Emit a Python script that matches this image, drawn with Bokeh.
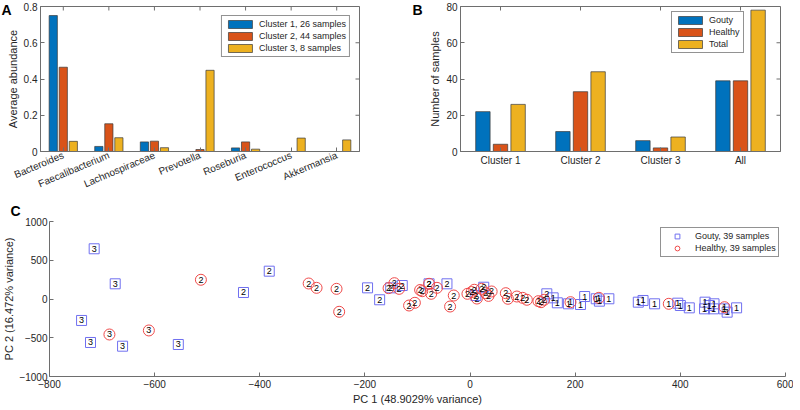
import numpy as np
from bokeh.plotting import figure
from bokeh.models import Range1d, FixedTicker, Legend, LegendItem
from bokeh.layouts import column, row
from bokeh.embed import file_html
from bokeh.resources import INLINE
from bokeh.core.properties import value

# ---------------- data ----------------
taxa = ["Bacteroides", "Faecalibacterium", "Lachnospiraceae", "Prevotella",
        "Roseburia", "Enterococcus", "Akkermansia"]
cluster1_abund = [0.750, 0.028, 0.053, 0.0, 0.020, 0.0, 0.0]
cluster2_abund = [0.465, 0.153, 0.057, 0.011, 0.053, 0.0, 0.0]
cluster3_abund = [0.056, 0.076, 0.021, 0.448, 0.013, 0.074, 0.064]
series_a_labels = ["Cluster 1, 26 samples", "Cluster 2, 44 samples", "Cluster 3, 8 samples"]
a_ticks = [0, 0.2, 0.4, 0.6, 0.8]

groups_b = ["Cluster 1", "Cluster 2", "Cluster 3", "All"]
gouty_counts = [22, 11, 6, 39]
healthy_counts = [4, 33, 2, 39]
total_counts = [26, 44, 8, 78]
series_b_labels = ["Gouty", "Healthy", "Total"]
b_ticks = [0, 20, 40, 60, 80]

gouty_pc1 = [-715, -675, -739, -722, -661, -555,
             -431, -382, -195, -172, -151, -129, -78, -44, 11, 26, 146,
             158, 166, 187, 210, 218, 240, 246, 264, 320, 329, 351, 395, 400,
             417, 447, 446, 455, 464, 463, 483, 489, 507]
gouty_pc2 = [648, 196, -277, -561, -609, -587,
             84, 359, 144, -10, 144, 174, 196, 196, 45, 152, 67,
             15, -49, -62, -71, 32, 3, -28, 3, -41, -19, -62, -54, -84,
             -114, -41, -127, -84, -62, -127, -127, -170, -114]
gouty_cluster = [3] * 6 + [2] * 11 + [1] * 22

healthy_pc1 = [-686, -611,
               191, 245, 378, 484,
               -512, -307, -292, -254, -249, -155, -144, -135, -116, -105, -95,
               -91, -78, -74, -63, -31, -38, -5, 3, 8, 13, 22, 30, 35, 41, 68,
               72, 89, 100, 108, 130, 135, 141]
healthy_pc2 = [-458, -406,
               -41, 15, -62, -106,
               248, 200, 144, 131, -165, 140, 204, 131, -84, -49, 116,
               101, 196, 67, 144, 45, -97, 67, 90, 119, 6, 131, 75, 40, 97, 75,
               3, 32, 15, -10, -28, -41, -10]
healthy_cluster = [3] * 2 + [1] * 4 + [2] * 33
c_xticks = [-800, -600, -400, -200, 0, 200, 400, 600]
c_yticks = [-1000, -500, 0, 500, 1000]

# ---------------- style ----------------
FONT = "Liberation Sans"
AX = "#6e6e6e"
TXT = "#262626"
EDGE = "#3a3a3a"
COLORS = ["#0072BD", "#D95319", "#EDB120"]


def style_axis(ax):
    ax.axis_line_color = AX
    ax.major_tick_line_color = AX
    ax.major_tick_in = 4
    ax.major_tick_out = 0
    ax.minor_tick_line_color = None
    ax.major_label_text_font = FONT
    ax.major_label_text_font_size = "10px"
    ax.major_label_text_color = TXT
    ax.axis_label_text_font = FONT
    ax.axis_label_text_font_size = "11px"
    ax.axis_label_text_font_style = "normal"
    ax.axis_label_text_color = TXT
    ax.major_label_standoff = 3
    ax.axis_label_standoff = 2


def box_ticks(p, xticks, yticks, xmax, ymax):
    # inward ticks on the top and right edges of the box (half of each dash is clipped)
    p.scatter(x=xticks, y=[ymax] * len(xticks), marker="dash", angle=np.pi / 2,
              size=8, line_color=AX, line_width=1)
    p.scatter(x=[xmax] * len(yticks), y=yticks, marker="dash",
              size=8, line_color=AX, line_width=1)


def style_legend(lg):
    lg.label_text_font = FONT
    lg.label_text_font_size = "9px"
    lg.label_text_color = TXT
    lg.border_line_color = "#262626"
    lg.border_line_width = 0.8
    lg.background_fill_color = "white"
    lg.background_fill_alpha = 1
    lg.padding = 3
    lg.spacing = 2
    lg.margin = 0
    lg.label_standoff = 4
    lg.label_height = 10


def letter(p, txt, dx, standoff):
    t = p.title
    t.text = txt
    t.text_font = FONT
    t.text_font_size = "14px"
    t.text_font_style = "bold"
    t.text_color = "black"
    t.align = "left"
    t.offset = dx
    t.standoff = standoff


# ---------------- panel A ----------------
xa = np.arange(1, len(taxa) + 1)
pA = figure(frame_width=319, frame_height=145, x_range=Range1d(0.5, len(taxa) + 0.5),
            y_range=Range1d(0, 0.8), output_backend="svg", toolbar_location=None,
            min_border_left=40, min_border_right=33, min_border_top=6, min_border_bottom=46)
pA.grid.visible = False
pA.outline_line_color = AX
itemsA = []
for vals, off, col, lab in zip([cluster1_abund, cluster2_abund, cluster3_abund],
                               [-0.22, 0.0, 0.22], COLORS, series_a_labels):
    r = pA.vbar(x=xa + off, top=vals, width=0.18, fill_color=col,
                line_color=EDGE, line_width=0.7)
    itemsA.append(LegendItem(label=lab, renderers=[r]))
box_ticks(pA, list(xa), a_ticks, pA.x_range.end, pA.y_range.end)
pA.xaxis.ticker = FixedTicker(ticks=list(xa))
pA.xaxis.major_label_overrides = {int(i): t for i, t in zip(xa, taxa)}
pA.xaxis.major_label_orientation = 0.4
pA.yaxis.ticker = FixedTicker(ticks=a_ticks)
pA.yaxis.axis_label = "Average abundance"
style_axis(pA.xaxis[0])
style_axis(pA.yaxis[0])
lgA = Legend(items=itemsA, location="top_right", glyph_width=30, glyph_height=10)
style_legend(lgA)
lgA.margin = 9
pA.add_layout(lgA)
letter(pA, "A", -39, -22)

# ---------------- panel B ----------------
xb = np.arange(1, len(groups_b) + 1)
pB = figure(frame_width=320, frame_height=145, x_range=Range1d(0.5, len(groups_b) + 0.5),
            y_range=Range1d(0, 80), output_backend="svg", toolbar_location=None,
            min_border_left=68, min_border_right=4, min_border_top=6, min_border_bottom=46)
pB.grid.visible = False
pB.outline_line_color = AX
itemsB = []
for vals, off, col, lab in zip([gouty_counts, healthy_counts, total_counts],
                               [-0.22, 0.0, 0.22], COLORS, series_b_labels):
    r = pB.vbar(x=xb + off, top=vals, width=0.18, fill_color=col,
                line_color=EDGE, line_width=0.7)
    itemsB.append(LegendItem(label=lab, renderers=[r]))
box_ticks(pB, list(xb), b_ticks, pB.x_range.end, pB.y_range.end)
pB.xaxis.ticker = FixedTicker(ticks=list(xb))
pB.xaxis.major_label_overrides = {int(i): t for i, t in zip(xb, groups_b)}
pB.yaxis.ticker = FixedTicker(ticks=b_ticks)
pB.yaxis.axis_label = "Number of samples"
style_axis(pB.xaxis[0])
style_axis(pB.yaxis[0])
lgB = Legend(items=itemsB, location=(211, 98), glyph_width=30, glyph_height=10)
style_legend(lgB)
pB.add_layout(lgB)
letter(pB, "B", -48, -22)

# ---------------- panel C ----------------
pC = figure(frame_width=736, frame_height=155, x_range=Range1d(-800, 600),
            y_range=Range1d(-1000, 1000), output_backend="svg", toolbar_location=None,
            min_border_left=40, min_border_right=8, min_border_top=24, min_border_bottom=30)
pC.grid.visible = False
pC.outline_line_color = None
gs = pC.scatter(gouty_pc1, gouty_pc2, marker="square", size=10, fill_color=None,
                line_color="#7070f0", line_width=1)
hs = pC.scatter(healthy_pc1, healthy_pc2, marker="circle", size=11, fill_color=None,
                line_color="#f04a4a", line_width=1)
pC.text(x=gouty_pc1 + healthy_pc1, y=gouty_pc2 + healthy_pc2,
        text=[str(c) for c in gouty_cluster + healthy_cluster],
        text_align="center", text_baseline="middle", text_font=value(FONT),
        text_font_size="9px", text_color="black")
pC.xaxis.ticker = FixedTicker(ticks=c_xticks)
pC.yaxis.ticker = FixedTicker(ticks=c_yticks)
pC.xaxis.axis_label = "PC 1 (48.9029% variance)"
pC.yaxis.axis_label = "PC 2 (16.472% variance)"
style_axis(pC.xaxis[0])
style_axis(pC.yaxis[0])
pC.yaxis.major_label_standoff = 2
pC.yaxis.axis_label_standoff = 1
pC.xaxis.axis_label_standoff = 2
lgC = Legend(items=[LegendItem(label="Gouty, 39 samples", renderers=[gs]),
                    LegendItem(label="Healthy, 39 samples", renderers=[hs])],
             location=(611, 119), glyph_width=28, glyph_height=12)
style_legend(lgC)
lgC.label_height = 12
lgC.spacing = 0
lgC.padding = 2
pC.add_layout(lgC)
letter(pC, "C", -39, 5)

layout = column(row(pA, pB), pC)
open("out.html", "w").write(file_html(layout, INLINE))
